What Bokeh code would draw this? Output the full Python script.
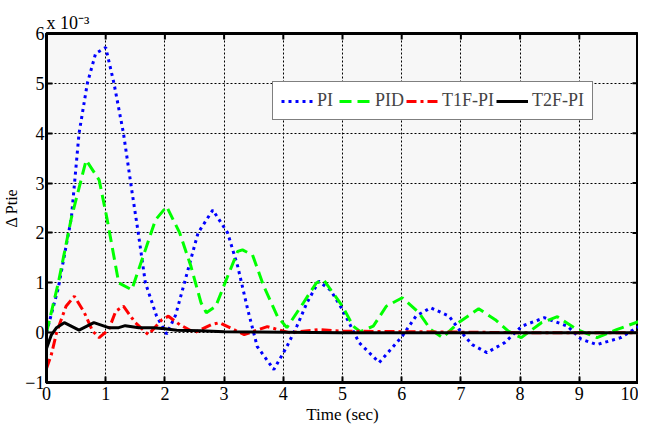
import math
from bokeh.plotting import figure
from bokeh.models import FixedTicker, Legend, LegendItem, Title
from bokeh.embed import file_html
from bokeh.resources import INLINE

# values in units of 1e-3
pi_t = [0, 0.2, 0.42, 0.55, 0.69, 0.83, 1.0, 1.14, 1.3, 1.44, 1.55, 1.67, 1.86, 2.03, 2.18, 2.33, 2.56, 2.81, 3.06, 3.23, 3.4, 3.56, 3.84, 4.06, 4.23, 4.4, 4.6, 4.8, 5.0, 5.28, 5.62, 6.01, 6.24, 6.49, 6.8, 6.99, 7.19, 7.44, 7.74, 8.03, 8.41, 8.8, 9.03, 9.3, 9.7, 10.0]
pi_v = [0, 0.9, 2.3, 4.0, 5.0, 5.6, 5.72, 5.0, 4.0, 2.86, 2.0, 1.0, 0.33, -0.03, 0.35, 1.0, 2.0, 2.46, 2.0, 1.33, 0.46, -0.28, -0.74, -0.28, 0.13, 0.6, 1.03, 0.85, 0.46, -0.2, -0.6, -0.07, 0.33, 0.5, 0.33, 0.03, -0.24, -0.4, -0.2, 0.13, 0.3, 0.13, -0.13, -0.24, -0.1, 0.12]

pid_t = [0, 0.2, 0.42, 0.67, 0.89, 1.02, 1.22, 1.44, 1.67, 1.84, 2.03, 2.25, 2.44, 2.61, 2.7, 2.86, 3.06, 3.23, 3.31, 3.48, 3.67, 3.9, 4.06, 4.34, 4.56, 4.68, 5.0, 5.18, 5.3, 5.52, 5.74, 6.01, 6.29, 6.49, 6.69, 6.96, 7.3, 7.58, 7.8, 8.02, 8.36, 8.63, 8.96, 9.3, 9.63, 10.0]
pid_v = [0, 1.0, 2.3, 3.46, 3.06, 2.3, 1.0, 0.86, 1.66, 2.26, 2.53, 2.0, 1.33, 0.6, 0.4, 0.53, 1.13, 1.63, 1.66, 1.56, 0.93, 0.33, 0.1, 0.6, 1.0, 1.06, 0.53, 0.13, 0.02, 0.13, 0.53, 0.7, 0.4, 0.06, -0.1, 0.2, 0.48, 0.26, 0.03, -0.1, 0.2, 0.32, 0.06, -0.1, 0.06, 0.22]

t1f_t = [0, 0.08, 0.17, 0.33, 0.47, 0.64, 0.78, 0.89, 1.05, 1.17, 1.3, 1.5, 1.72, 1.95, 2.06, 2.25, 2.5, 2.78, 2.92, 3.34, 3.73, 4.1, 4.6, 5.0, 6.0, 7.0, 8.0, 10.0]
t1f_v = [-0.72, -0.45, 0.0, 0.53, 0.73, 0.4, 0.03, -0.1, 0.06, 0.43, 0.53, 0.2, -0.04, 0.26, 0.33, 0.16, 0.0, 0.16, 0.2, -0.04, 0.12, 0.0, 0.06, 0.03, 0.02, 0.01, 0.0, 0.0]

t2f_t = [0, 0.08, 0.17, 0.3, 0.55, 0.8, 1.05, 1.22, 1.33, 1.56, 1.8, 2.0, 2.2, 2.6, 3.0, 4.0, 5.0, 10.0]
t2f_v = [-0.32, -0.05, 0.1, 0.2, 0.05, 0.2, 0.1, 0.1, 0.14, 0.1, 0.1, 0.08, 0.05, 0.04, 0.02, 0.01, 0.0, 0.0]

x_ticks = [0, 1, 2, 3, 4, 5, 6, 7, 8, 9, 10]
y_ticks = [-1, 0, 1, 2, 3, 4, 5, 6]
x_lo, x_hi = 0, 10
y_lo, y_hi = -1, 6
scale_label = "x 10⁻³"

FONT = "Liberation Serif"

p = figure(width=638, height=426, x_range=(x_lo, x_hi), y_range=(y_lo, y_hi),
           output_backend="svg", toolbar_location=None,
           min_border_left=40, min_border_right=0, min_border_top=33, min_border_bottom=42)
p.border_fill_color = "white"
p.background_fill_color = "#f7f7f7"
p.outline_line_color = "black"
p.outline_line_width = 3

p.add_layout(Title(text=scale_label, align="left", text_font=FONT, text_font_size="18px",
                   text_font_style="normal", text_color="black", standoff=2, offset=0), "above")

for ax in (p.xaxis[0], p.yaxis[0]):
    ax.major_label_text_font = FONT
    ax.major_label_text_font_size = "18px"
    ax.major_label_text_color = "black"
    ax.axis_label_text_font = FONT
    ax.axis_label_text_font_size = "17px"
    ax.axis_label_text_font_style = "normal"
    ax.axis_label_text_color = "black"
    ax.major_tick_in = 6
    ax.major_tick_out = 0
    ax.minor_tick_line_color = None
    ax.axis_line_width = 3
    ax.major_tick_line_width = 2
    ax.major_label_standoff = 3
p.xaxis[0].ticker = FixedTicker(ticks=x_ticks)
p.yaxis[0].ticker = FixedTicker(ticks=y_ticks)
p.xaxis[0].axis_label = "Time (sec)"
p.yaxis[0].axis_label = "Δ Ptie"
p.xaxis[0].major_label_text_line_height = 1.0
p.xaxis[0].axis_label_text_line_height = 1.0
p.xaxis[0].major_label_standoff = 4
p.xaxis[0].axis_label_standoff = 2
p.yaxis[0].major_label_standoff = 2
p.yaxis[0].axis_label_standoff = 2
p.yaxis[0].axis_label_text_font_size = "16px"

# inward ticks on the right and top edges of the frame
p.ray(x=[x_hi] * len(y_ticks), y=y_ticks, length=6, length_units="screen",
      angle=math.pi, line_color="black", line_width=2)
p.ray(x=x_ticks, y=[y_hi] * len(x_ticks), length=6, length_units="screen",
      angle=-math.pi / 2, line_color="black", line_width=2)

p.xgrid.ticker = FixedTicker(ticks=x_ticks)
p.ygrid.ticker = FixedTicker(ticks=y_ticks)
for g in (p.xgrid[0], p.ygrid[0]):
    g.grid_line_color = "black"
    g.grid_line_dash = "2 2"
    g.grid_line_width = 1
    g.grid_line_alpha = 1.0

r1 = p.line(pi_t, pi_v, line_color="#0000ff", line_width=3, line_dash="3 4")
r2 = p.line(pid_t, pid_v, line_color="#00ff00", line_width=3, line_dash="12 6")
r3 = p.line(t1f_t, t1f_v, line_color="#ff0000", line_width=3, line_dash="10 4 3 4")
r4 = p.line(t2f_t, t2f_v, line_color="black", line_width=3)

legend = Legend(items=[LegendItem(label="PI", renderers=[r1]),
                       LegendItem(label="PID", renderers=[r2]),
                       LegendItem(label="T1F-PI", renderers=[r3]),
                       LegendItem(label="T2F-PI", renderers=[r4])],
                orientation="horizontal", location=(226, 262))
legend.label_text_font = FONT
legend.label_text_font_size = "18px"
legend.glyph_width = 32
legend.glyph_height = 16
legend.spacing = 2
legend.padding = 8
legend.margin = 0
legend.label_standoff = 4
legend.border_line_color = "black"
legend.border_line_width = 1.5
legend.background_fill_color = "white"
legend.background_fill_alpha = 1.0
p.add_layout(legend, "center")

open("out.html", "w").write(file_html(p, INLINE))
